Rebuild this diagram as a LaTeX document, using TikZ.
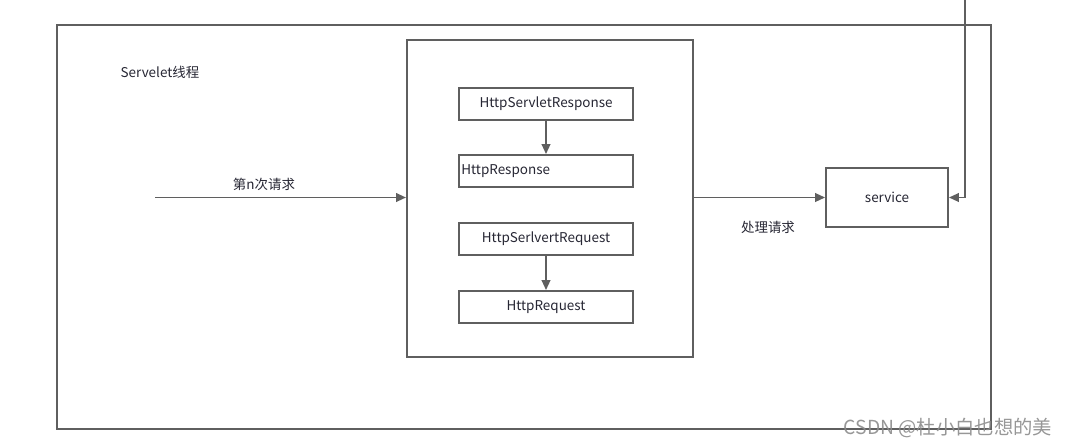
\documentclass[tikz,border=0pt]{standalone}
\usepackage{fontspec}
\setmainfont{Noto Sans CJK SC}
\usetikzlibrary{arrows.meta,positioning}
\definecolor{linegray}{HTML}{5F5F5F}
\definecolor{txt}{HTML}{262633}
\definecolor{wmark}{HTML}{8C8C8C}
\begin{document}
\begin{tikzpicture}[x=0.75pt,y=-0.75pt,
  every node/.style={text=txt,font=\fontsize{10.1}{12}\selectfont},
  frame/.style={draw=linegray,line width=1.4pt,inner sep=0pt,anchor=north west},
  box/.style={draw=linegray,line width=1.4pt,fill=white,inner sep=0pt,minimum width=130.5pt,minimum height=24pt},
  arr/.style={draw=linegray,line width=1.4pt,-{Triangle[length=7.5pt,width=6.5pt]}}]
\useasboundingbox (0,0) rectangle (1069,447);
% frames
\node[frame,minimum width=700.5pt,minimum height=303pt] (thread) at (56,24) {};
\node[frame,minimum width=214.5pt,minimum height=237.75pt] (proc) at (406,39) {};
\node at (160,72) (title) {Servelet线程};
% request and response objects
\node[box] (sresp) at (546,104) {HttpServletResponse};
\node[box,text width=127pt,align=left] (resp) at (546,171) {HttpResponse};
\node[box] (sreq) at (546,239) {HttpSerlvertRequest};
\node[box] (req) at (546,307) {HttpRequest};
\draw[arr] (sresp) -- (resp);
\draw[arr] (sreq) -- (req);
% service
\node[draw=linegray,line width=1.4pt,inner sep=0pt,minimum width=91.5pt,minimum height=44.25pt] (svc) at (887,197.5) {service};
\coordinate (src) at (155,197.5);
\coordinate (top) at (965,0);
\draw[arr] (src) -- (src -| proc.west);
\node at (264,184) (lreq) {第n次请求};
\draw[arr] (proc.east |- svc) -- (svc.west);
\node at (768,227) (lproc) {处理请求};
\draw[arr] (top) |- (svc.east);
\node[text=wmark,opacity=0.9,font=\fontsize{14.5}{16}\selectfont] at (948,428) (wm) {CSDN @杜小白也想的美};
\end{tikzpicture}
\end{document}
